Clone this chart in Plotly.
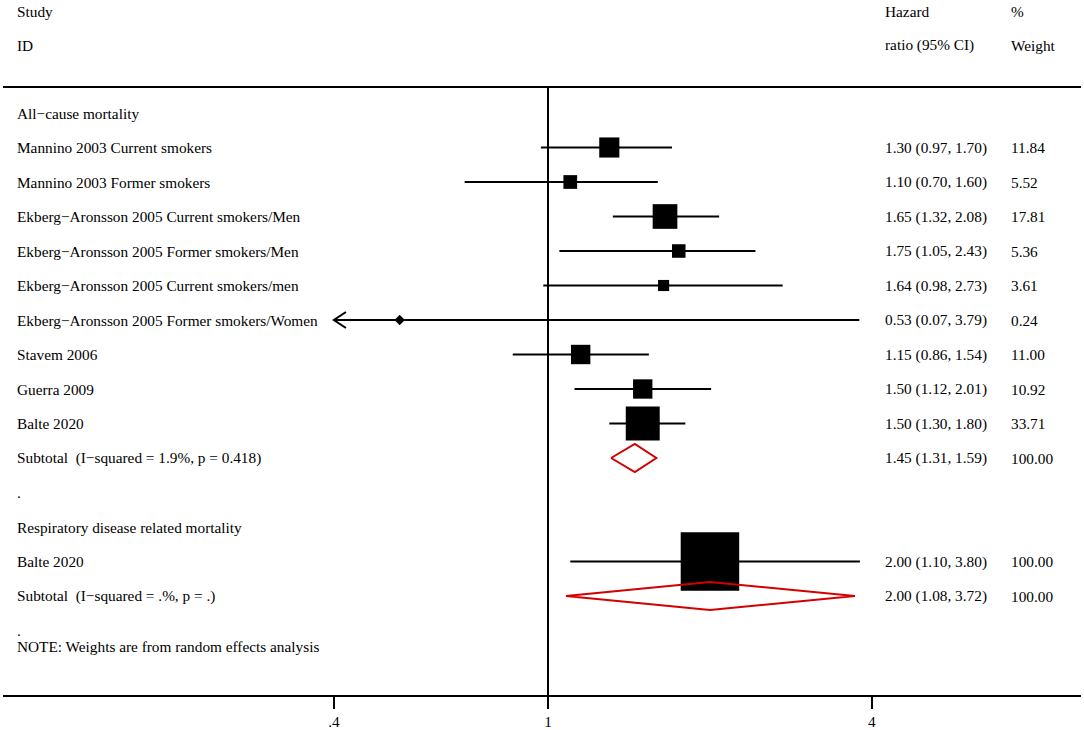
import numpy as np
import plotly.graph_objects as go

# --- data ---
GROUP_TITLES = ["All−cause mortality", "Respiratory disease related mortality"]
STUDY_LABELS = [
    "Mannino 2003 Current smokers",
    "Mannino 2003 Former smokers",
    "Ekberg−Aronsson 2005 Current smokers/Men",
    "Ekberg−Aronsson 2005 Former smokers/Men",
    "Ekberg−Aronsson 2005 Current smokers/men",
    "Ekberg−Aronsson 2005 Former smokers/Women",
    "Stavem 2006",
    "Guerra 2009",
    "Balte 2020",
    "Balte 2020",
]
STUDY_GROUP = [0, 0, 0, 0, 0, 0, 0, 0, 0, 1]
HR = [1.30, 1.10, 1.65, 1.75, 1.64, 0.53, 1.15, 1.50, 1.50, 2.00]
CI_LOW = [0.97, 0.70, 1.32, 1.05, 0.98, 0.07, 0.86, 1.12, 1.30, 1.10]
CI_HIGH = [1.70, 1.60, 2.08, 2.43, 2.73, 3.79, 1.54, 2.01, 1.80, 3.80]
WEIGHT = [11.84, 5.52, 17.81, 5.36, 3.61, 0.24, 11.00, 10.92, 33.71, 100.00]

SUBTOTAL_LABELS = ["Subtotal\u00a0 (I−squared = 1.9%, p = 0.418)",
                   "Subtotal\u00a0 (I−squared = .%, p = .)"]
SUB_HR = [1.45, 2.00]
SUB_LOW = [1.31, 1.08]
SUB_HIGH = [1.59, 3.72]
SUB_WEIGHT = [100.00, 100.00]

NOTE = "NOTE: Weights are from random effects analysis"
X_TICKS = [0.4, 1, 4]
X_TICK_TEXT = [".4", "1", "4"]
X_MIN = 0.4  # lower display limit, CIs below it get an arrow

# --- page geometry in pixels ---
W, H = 1084, 730
PX_PER_LN = 233.65
X_ONE_PX = 548
ROW_PX = 34.5
FIRST_ROW_PX = 113
BOTTOM_PX = 696
BOX_FULL = 58.5   # box side for 100% weight
FONT = dict(family="Liberation Serif, Times New Roman, serif", size=15.3, color="black")
RED = "#d40000"


def row_of(px):
    return (px - FIRST_ROW_PX) / ROW_PX


def xp(px):
    return px / W


x_range = [(-X_ONE_PX / PX_PER_LN) / np.log(10), ((W - X_ONE_PX) / PX_PER_LN) / np.log(10)]
y_range = [row_of(BOTTOM_PX), row_of(0)]

# lay out rows: title, studies, subtotal, "." per group
rows = []  # (label, kind, index)
for g, title in enumerate(GROUP_TITLES):
    rows.append((title, "title", g))
    for i, sg in enumerate(STUDY_GROUP):
        if sg == g:
            rows.append((STUDY_LABELS[i], "study", i))
    rows.append((SUBTOTAL_LABELS[g], "sub", g))
    rows.append((".", "dot", g))

study_y = {}
sub_y = {}
for r, (lab, kind, idx) in enumerate(rows):
    if kind == "study":
        study_y[idx] = r
    elif kind == "sub":
        sub_y[idx] = r

fig = go.Figure()

# line of no effect
fig.add_trace(go.Scatter(x=[1, 1], y=[row_of(87), row_of(BOTTOM_PX)], mode="lines",
                         line=dict(color="black", width=2), hoverinfo="skip"))

# confidence intervals
cx, cy = [], []
ax_, ay_ = [], []
for i in range(len(HR)):
    y = study_y[i]
    lo = max(CI_LOW[i], X_MIN)
    cx += [lo, CI_HIGH[i], None]
    cy += [y, y, None]
    if CI_LOW[i] < X_MIN:
        back = X_MIN * np.exp(12 / PX_PER_LN)
        ax_ += [back, X_MIN, back, None]
        ay_ += [y - 8 / ROW_PX, y, y + 8 / ROW_PX, None]
fig.add_trace(go.Scatter(x=cx, y=cy, mode="lines", line=dict(color="black", width=2),
                         hoverinfo="skip"))
fig.add_trace(go.Scatter(x=ax_, y=ay_, mode="lines", line=dict(color="black", width=2),
                         hoverinfo="skip"))

# weight boxes
fig.add_trace(go.Scatter(
    x=HR, y=[study_y[i] for i in range(len(HR))], mode="markers",
    marker=dict(symbol="square", color="black", opacity=1,
                size=[BOX_FULL * np.sqrt(w / 100) for w in WEIGHT], line=dict(width=0)),
    hoverinfo="skip"))
# point estimates
fig.add_trace(go.Scatter(
    x=HR, y=[study_y[i] for i in range(len(HR))], mode="markers",
    marker=dict(symbol="diamond", color="black", opacity=1, size=8, line=dict(width=0)),
    hoverinfo="skip"))

# pooled diamonds
half = 14 / ROW_PX
for g in range(len(SUB_HR)):
    y = sub_y[g]
    fig.add_trace(go.Scatter(
        x=[SUB_LOW[g], SUB_HR[g], SUB_HIGH[g], SUB_HR[g], SUB_LOW[g]],
        y=[y, y - half, y, y + half, y], mode="lines",
        line=dict(color=RED, width=2), hoverinfo="skip"))

# text columns
ann = []


def txt(xpx, y, s):
    ann.append(dict(x=xp(xpx), xref="paper", y=y, yref="y", text=s, showarrow=False,
                    xanchor="left", yanchor="middle", font=FONT))


txt(15, row_of(11), "Study")
txt(15, row_of(45), "ID")
txt(883, row_of(11), "Hazard")
txt(883, row_of(45), "ratio (95% CI)")
txt(1009, row_of(11), "%")
txt(1009, row_of(45), "Weight")

for r, (lab, kind, idx) in enumerate(rows):
    txt(15, r, lab)
    if kind == "study":
        txt(883, r, f"{HR[idx]:.2f} ({CI_LOW[idx]:.2f}, {CI_HIGH[idx]:.2f})")
        txt(1009, r, f"{WEIGHT[idx]:.2f}")
    elif kind == "sub":
        txt(883, r, f"{SUB_HR[idx]:.2f} ({SUB_LOW[idx]:.2f}, {SUB_HIGH[idx]:.2f})")
        txt(1009, r, f"{SUB_WEIGHT[idx]:.2f}")
txt(15, len(rows) - 1 + 0.45, NOTE)

shapes = [
    dict(type="line", xref="paper", yref="y", x0=xp(3), x1=xp(1081),
         y0=row_of(87), y1=row_of(87), line=dict(color="black", width=2)),
    dict(type="line", xref="paper", yref="paper", x0=xp(3), x1=xp(1081),
         y0=0, y1=0, line=dict(color="black", width=2)),
]

fig.update_layout(
    width=W, height=H, showlegend=False,
    margin=dict(l=0, r=0, t=0, b=H - BOTTOM_PX, pad=0),
    paper_bgcolor="white", plot_bgcolor="white",
    annotations=ann, shapes=shapes,
    xaxis=dict(type="log", range=x_range, showgrid=False, zeroline=False, showline=False,
               tickvals=X_TICKS, ticktext=X_TICK_TEXT, ticks="outside", ticklen=12,
               tickwidth=2, tickcolor="black", tickfont=FONT, fixedrange=True),
    yaxis=dict(range=y_range, showgrid=False, zeroline=False, showline=False,
               showticklabels=False, ticks="", fixedrange=True),
)

# drop the default body margin so the figure sits flush in the window
fig.write_html("out.html", config={"displayModeBar": False},
               post_script="document.body.style.margin='0';")
